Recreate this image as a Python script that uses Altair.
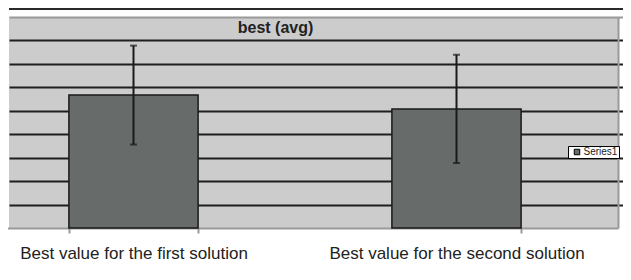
import altair as alt
import pandas as pd

categories = ["Best value for the first solution", "Best value for the second solution"]
values = [5.67, 5.08]
errors = [2.11, 2.31]
series = ["Series1", "Series1"]
grid_values = [1, 2, 3, 4, 5, 6, 7, 8, 9]
title_text = ["best (avg)"]

df = pd.DataFrame({"cat": categories, "value": values, "err": errors, "series": series})
df["lo"] = df["value"] - df["err"]
df["hi"] = df["value"] + df["err"]

FONT = "Liberation Sans"

xaxis = alt.Axis(
    title=None, labelAngle=0, labelFontSize=17, labelFont=FONT, labelColor="#222222",
    labelLimit=500, labelPadding=12, domainColor="#999999", domainWidth=2,
    tickColor="#999999", tickWidth=2, tickSize=5, tickBand="extent", grid=False,
    labelOverlap=False,
)
yaxis = alt.Axis(
    orient="right", title=None, labels=False, ticks=False, values=grid_values,
    labelOverlap=False, tickCount=9,
    domain=True, domainColor="#999999", domainWidth=2, grid=True, gridWidth=2,
    gridColor=alt.condition(alt.datum.value == 9, alt.value("#999999"), alt.value("#1e1e1e")),
)
xscale = alt.Scale(range=[-37, 609], paddingInner=0.6, paddingOuter=0.3)
yscale = alt.Scale(domain=[0, 9], nice=False, zero=True)

bars = alt.Chart(df).mark_bar(stroke="#1a1a1a", strokeWidth=1.5).encode(
    x=alt.X("cat:N", sort=categories, scale=xscale, axis=xaxis),
    y=alt.Y("value:Q", scale=yscale, axis=yaxis),
    color=alt.Color(
        "series:N",
        scale=alt.Scale(range=["#676c6a"]),
        legend=alt.Legend(
            title=None, orient="none", legendX=559, legendY=129, padding=1,
            strokeColor="#000000", fillColor="#ffffff", symbolType="square",
            symbolSize=30, symbolStrokeColor="#000000", symbolStrokeWidth=1,
            symbolOffset=3, labelOffset=1.5, labelFontSize=10, labelFont=FONT,
            labelColor="#222222",
        ),
    ),
)

rule = alt.Chart(df).mark_rule(color="#1a1a1a", strokeWidth=2).encode(
    x=alt.X("cat:N", sort=categories, scale=xscale, axis=xaxis),
    y=alt.Y("lo:Q", scale=yscale, axis=yaxis),
    y2="hi:Q",
)

cap_lo = alt.Chart(df).mark_tick(color="#1a1a1a", size=7, thickness=2).encode(
    x=alt.X("cat:N", sort=categories, scale=xscale, axis=xaxis),
    y=alt.Y("lo:Q", scale=yscale, axis=yaxis),
)
cap_hi = alt.Chart(df).mark_tick(color="#1a1a1a", size=7, thickness=2).encode(
    x=alt.X("cat:N", sort=categories, scale=xscale, axis=xaxis),
    y=alt.Y("hi:Q", scale=yscale, axis=yaxis),
)

topline = alt.Chart(df).mark_rule(color="#2a2a2a", strokeWidth=2).encode(
    x=alt.value(0), x2=alt.value(620), y=alt.value(-8)
)

title = alt.Chart(pd.DataFrame({"t": title_text})).mark_text(
    fontSize=16, fontWeight="bold", font=FONT, color="#222222",
    align="center", baseline="alphabetic",
).encode(text="t:N", x=alt.value(266.5), y=alt.value(16.3))

chart = alt.layer(bars, rule, cap_lo, cap_hi, topline, title).properties(
    width=609,
    height=211,
    autosize=alt.AutoSizeParams(type="none"),
    padding={"left": 1, "top": 9, "right": 5, "bottom": 40},
).configure(
    font=FONT,
    view=alt.ViewConfig(fill="#cccccc", strokeWidth=0),
)

chart.save("out.html", embed_options={"renderer": "svg", "actions": False})
